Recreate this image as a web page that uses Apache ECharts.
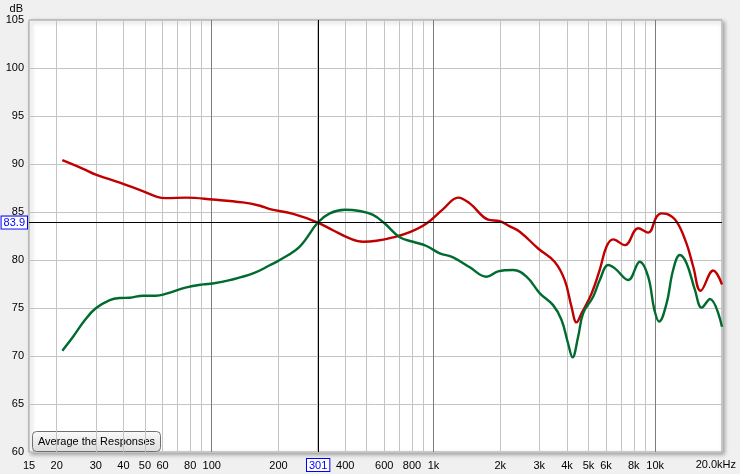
<!DOCTYPE html>
<html>
<head>
<meta charset="utf-8">
<script src="https://cdn.jsdelivr.net/npm/echarts@6.0.0/dist/echarts.min.js"></script>
<style>
html, body { margin: 0; padding: 0; background: #f0f0f0; }
#chart { width: 740px; height: 474px; }
</style>
</head>
<body>
<div id="chart"></div>
<script>
// measured responses (Hz / dB)
const redFreq = [21.2, 26.3, 30, 38.5, 49.8, 57.2, 62, 77, 101, 138, 165, 183, 233, 301, 352, 419, 482, 553, 657, 782, 930, 1105, 1291, 1458, 1764, 1991, 2208, 2449, 2964, 3524, 3908, 4194, 4416, 4652, 5160, 5623, 6030, 6457, 7295, 8375, 9290, 10140, 10670, 11250, 12480, 13840, 14840, 16020, 18260, 20000];
const redDb = [90.4, 89.5, 88.9, 88.05, 87.1, 86.55, 86.45, 86.5, 86.3, 86.0, 85.65, 85.3, 84.8, 83.9, 83.1, 82.25, 81.9, 82.0, 82.35, 82.9, 83.8, 85.3, 86.5, 85.9, 84.2, 84.05, 83.5, 82.95, 81.2, 79.8, 77.9, 75.1, 73.5, 74.45, 76.5, 79.0, 81.4, 82.15, 81.55, 83.3, 82.85, 84.5, 84.86, 84.8, 84.0, 81.7, 79.3, 76.8, 78.9, 77.45];
const greenFreq = [21.2, 23.7, 26.8, 30, 34.7, 38.5, 42.7, 49, 56, 62.5, 77, 91.4, 101, 120.6, 153.6, 182.6, 202.6, 249.4, 301, 340.6, 398, 465, 534, 603, 705, 809, 930, 1067, 1225, 1458, 1734, 1956, 2286, 2627, 3017, 3463, 3780, 4046, 4236, 4490, 4730, 5248, 5623, 6135, 6574, 7550, 8520, 9290, 9910, 10410, 11250, 12040, 12910, 13840, 15100, 16200, 17640, 20000];
const greenDb = [70.55, 72.0, 73.75, 74.97, 75.83, 76.04, 76.07, 76.28, 76.28, 76.5, 77.15, 77.46, 77.55, 77.9, 78.6, 79.45, 80.0, 81.4, 83.9, 84.86, 85.24, 85.1, 84.7, 83.8, 82.36, 81.9, 81.46, 80.7, 80.28, 79.24, 78.26, 78.82, 78.96, 78.26, 76.53, 75.3, 73.75, 71.3, 69.86, 72.0, 74.45, 76.18, 77.92, 79.48, 79.13, 77.92, 79.82, 78.26, 74.8, 73.58, 75.49, 78.96, 80.52, 79.66, 76.88, 75.04, 75.94, 73.05];

const gridFreqs = [20, 30, 40, 50, 60, 70, 80, 90, 100, 200, 300, 400, 500, 600, 700, 800, 900, 1000, 2000, 3000, 4000, 5000, 6000, 7000, 8000, 9000, 10000, 20000];
const xLabelFreqs = [15, 20, 30, 40, 50, 60, 80, 100, 200, 400, 600, 800, 1000, 2000, 3000, 4000, 5000, 6000, 8000, 10000];
const xLabelTexts = ["15", "20", "30", "40", "50", "60", "80", "100", "200", "400", "600", "800", "1k", "2k", "3k", "4k", "5k", "6k", "8k", "10k"];
const cursorFreq = 301;
const cursorDb = 83.9;

const font = "Liberation Sans, Arial, sans-serif";
const lg = Math.log10;

function pairs(fs, ds) {
  return fs.map((f, i) => [lg(f), ds[i]]);
}

const chart = echarts.init(document.getElementById("chart"));
chart.setOption({
  animation: false,
  backgroundColor: "#f0f0f0",
  grid: {
    left: 29, right: 18, top: 20, bottom: 22,
    show: true,
    backgroundColor: "#fff",
    borderColor: "#9a9a9a",
    borderWidth: 1,
    shadowColor: "rgba(0,0,0,0.35)",
    shadowBlur: 4,
    shadowOffsetX: 2,
    shadowOffsetY: 2
  },
  xAxis: {
    type: "value",
    min: lg(15),
    max: lg(20000),
    axisLine: { show: false },
    axisTick: { show: false, customValues: gridFreqs.map(lg) },
    splitLine: {
      show: true,
      lineStyle: {
        // every 9th line (100, 1k, 10k) is darker
        color: ["#c4c4c4", "#c4c4c4", "#c4c4c4", "#c4c4c4", "#c4c4c4", "#c4c4c4", "#c4c4c4", "#c4c4c4", "#7c7c7c"],
        width: 1
      }
    },
    axisLabel: {
      customValues: xLabelFreqs.map(lg),
      margin: 8,
      color: "#000",
      fontSize: 11,
      fontFamily: font,
      formatter: function (v) {
        const i = xLabelFreqs.findIndex(f => Math.abs(lg(f) - v) < 1e-6);
        return i >= 0 ? xLabelTexts[i] : "";
      }
    }
  },
  yAxis: {
    type: "value",
    min: 60,
    max: 105,
    interval: 5,
    name: "dB",
    nameLocation: "end",
    nameGap: 4,
    nameTextStyle: { color: "#000", fontSize: 11, fontFamily: font, align: "right", padding: [0, 6, 0, 0] },
    axisLine: { show: false },
    axisTick: { show: false },
    splitLine: { show: true, lineStyle: { color: "#c4c4c4", width: 1 } },
    axisLabel: { margin: 5, color: "#000", fontSize: 11, fontFamily: font }
  },
  series: [
    {
      type: "line",
      data: pairs(redFreq, redDb),
      smooth: 0.4,
      showSymbol: false,
      lineStyle: { color: "#c00000", width: 2.4 },
      z: 3,
      markLine: {
        silent: true,
        symbol: "none",
        animation: false,
        lineStyle: { color: "#000", width: 1, type: "solid" },
        label: {
          position: "start",
          color: "#0000ff",
          backgroundColor: "#fff",
          borderColor: "#0000ff",
          borderWidth: 1,
          padding: [1, 2, 0, 2],
          fontSize: 11,
          fontFamily: font
        },
        data: [
          { xAxis: lg(cursorFreq), label: { formatter: String(cursorFreq), distance: 7 } },
          { yAxis: cursorDb, label: { formatter: cursorDb.toFixed(1), distance: 2 } }
        ]
      }
    },
    {
      type: "line",
      data: pairs(greenFreq, greenDb),
      smooth: 0.4,
      showSymbol: false,
      lineStyle: { color: "#006b2e", width: 2.4 },
      z: 4
    }
  ],
  graphic: [
    {
      type: "text",
      right: 4,
      top: 459,
      style: { text: "20.0kHz", fill: "#000", font: "11px " + font }
    },
    {
      type: "group",
      left: 32,
      top: 431,
      children: [
        {
          type: "rect",
          shape: { x: 0, y: 0, width: 128, height: 20, r: 4 },
          style: {
            fill: new echarts.graphic.LinearGradient(0, 0, 0, 1, [
              { offset: 0, color: "#fbfbfb" },
              { offset: 1, color: "#dcdcdc" }
            ]),
            stroke: "#707070",
            lineWidth: 1
          }
        },
        {
          type: "text",
          x: 64,
          y: 10,
          style: {
            text: "Average the Responses",
            fill: "#000",
            font: "11px " + font,
            align: "center",
            verticalAlign: "middle"
          }
        }
      ]
    }
  ]
});
</script>
</body>
</html>
